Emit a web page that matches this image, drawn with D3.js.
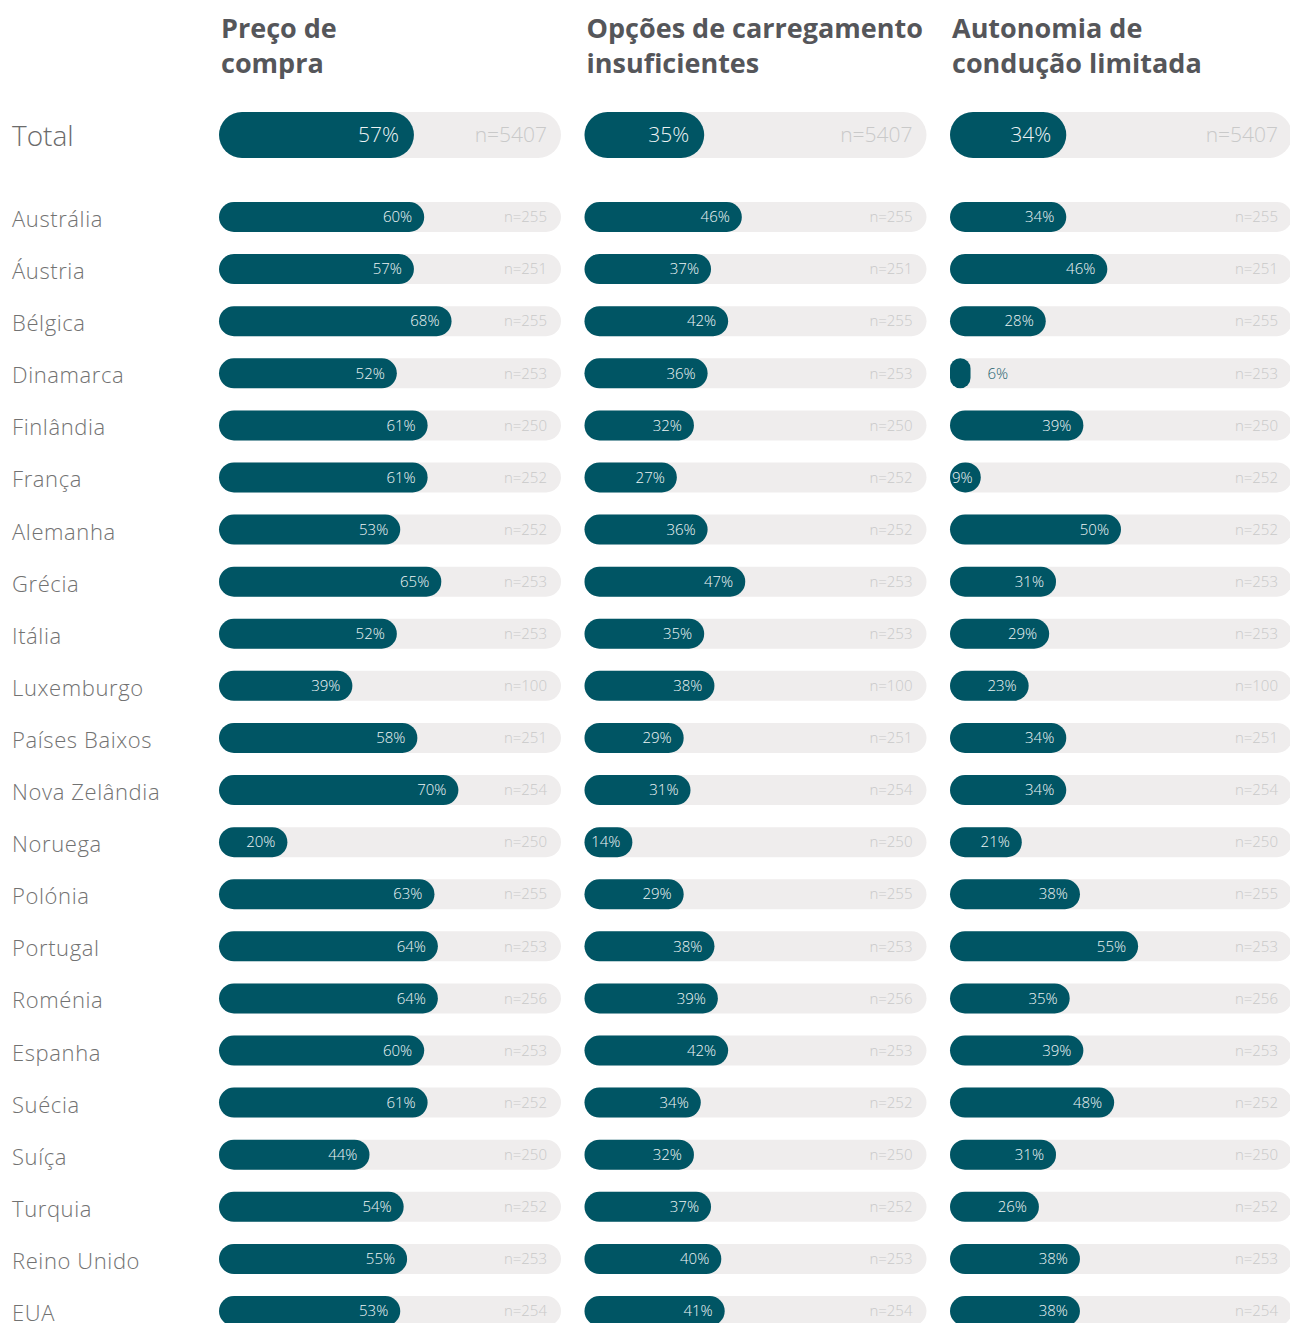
<!DOCTYPE html>
<html>
<head>
<meta charset="utf-8">
<script src="https://cdn.jsdelivr.net/npm/d3@7"></script>
<style>
  body { margin: 0; background: #fff; }
  text { font-family: "Open Sans", Lato, sans-serif; }
</style>
</head>
<body>
<script>
// dados
var headers = [["Preço de", "compra"], ["Opções de carregamento", "insuficientes"], ["Autonomia de", "condução limitada"]];
var totals = [57, 35, 34];
var totalN = 5407;
var countries = ["Austrália", "Áustria", "Bélgica", "Dinamarca", "Finlândia", "França", "Alemanha", "Grécia", "Itália",
  "Luxemburgo", "Países Baixos", "Nova Zelândia", "Noruega", "Polónia", "Portugal", "Roménia", "Espanha", "Suécia",
  "Suíça", "Turquia", "Reino Unido", "EUA"];
var preco = [60, 57, 68, 52, 61, 61, 53, 65, 52, 39, 58, 70, 20, 63, 64, 64, 60, 61, 44, 54, 55, 53];
var opcoes = [46, 37, 42, 36, 32, 27, 36, 47, 35, 38, 29, 31, 14, 29, 38, 39, 42, 34, 32, 37, 40, 41];
var autonomia = [34, 46, 28, 6, 39, 9, 50, 31, 29, 23, 34, 34, 21, 38, 55, 35, 39, 48, 31, 26, 38, 38];
var nSizes = [255, 251, 255, 253, 250, 252, 252, 253, 253, 100, 251, 254, 250, 255, 253, 256, 253, 252, 250, 252, 253, 254];

var series = [preco, opcoes, autonomia];

var W = 1290, H = 1323;
var trackW = 342;
var dark = "#005564", track = "#efeded";

var svg = d3.select("body").append("svg").attr("width", W).attr("height", H);

var col = d3.scaleLinear().domain([0, 2]).range([219, 950]);   // posição de cada coluna
var x = d3.scaleLinear().domain([0, 100]).range([0, trackW]);   // comprimento da barra
var y = d3.scalePoint().domain(countries).range([217, 1311]);   // linhas dos países

// títulos
headers.forEach(function (lines, i) {
  var t = svg.append("text")
    .attr("x", col(i) + 2).attr("y", 38)
    .attr("font-size", 27).attr("font-weight", 700).attr("fill", "#55565a");
  lines.forEach(function (l, k) {
    t.append("tspan").attr("x", col(i) + 2).attr("dy", k ? 35 : 0).text(l);
  });
});

// nomes dos países
svg.append("text").attr("x", 12).attr("y", 146)
  .attr("font-size", 28).attr("font-weight", 300).attr("fill", "#6b6b6b").text("Total");

svg.selectAll("text.country")
  .data(countries)
  .enter()
  .append("text")
  .attr("class", "country")
  .attr("x", 12)
  .attr("y", function (d) { return y(d) + 10; })
  .attr("font-size", 22).attr("font-weight", 300).attr("letter-spacing", 0.6).attr("fill", "#727272")
  .text(function (d) { return d; });

function drawRow(g, cy, h, v, n, fs, fsN) {
  g.append("rect").attr("x", 0).attr("y", cy - h / 2).attr("width", trackW).attr("height", h)
    .attr("rx", h / 2).attr("fill", track);
  var bw = Math.max(x(v), 20);
  g.append("rect").attr("x", 0).attr("y", cy - h / 2).attr("width", bw).attr("height", h)
    .attr("rx", Math.min(h / 2, bw / 2)).attr("fill", dark);
  var lbl = g.append("text").attr("y", cy).attr("dy", "0.35em")
    .attr("font-size", fs).attr("font-weight", 300).text(v + "%");
  if (bw < 25) {
    lbl.attr("x", bw + 17).attr("fill", "#1f6470");
  } else if (bw < 36) {
    lbl.attr("x", 2).attr("fill", "#eef4f5");
  } else {
    lbl.attr("x", bw - (h > 40 ? 15 : 12)).attr("text-anchor", "end").attr("fill", "#eef4f5");
  }
  g.append("text").attr("x", trackW - 14).attr("y", cy).attr("dy", "0.35em")
    .attr("text-anchor", "end").attr("font-size", fsN).attr("font-weight", 300)
    .attr("fill", "#c9c9c9").text("n=" + n);
}

series.forEach(function (vals, i) {
  var g = svg.append("g").attr("transform", "translate(" + col(i) + ",0)");
  drawRow(g, 135, 46, totals[i], totalN, 21, 21);
  vals.forEach(function (v, k) {
    drawRow(g, y(countries[k]), 30, v, nSizes[k], 15, 15);
  });
});
</script>
</body>
</html>
